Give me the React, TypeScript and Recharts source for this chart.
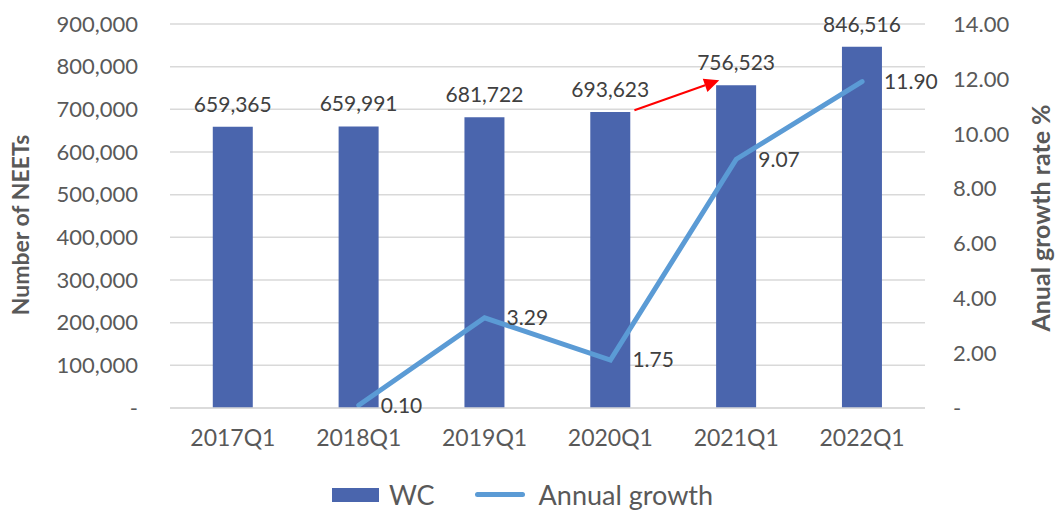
import React from "react";
import {
  ComposedChart,
  Bar,
  Line,
  XAxis,
  YAxis,
  CartesianGrid,
  LabelList,
  Legend,
  ReferenceLine,
} from "recharts";

const categories = ["2017Q1", "2018Q1", "2019Q1", "2020Q1", "2021Q1", "2022Q1"];
const wcValues = [659365, 659991, 681722, 693623, 756523, 846516];
const growthValues: (number | null)[] = [null, 0.1, 3.29, 1.75, 9.07, 11.9];
const leftTicks = [0, 100000, 200000, 300000, 400000, 500000, 600000, 700000, 800000, 900000];
const rightTicks = [0, 2, 4, 6, 8, 10, 12, 14];

// arrow annotation between 2020Q1 and 2021Q1 (value coordinates)
const arrowSegment = [
  { x: "2020Q1", y: 698000 },
  { x: "2021Q1", y: 768000 },
];

const FONT = "Lato, 'Open Sans', sans-serif";
const BAR_COLOR = "#4A65AD";
const LINE_COLOR = "#5B9BD5";
const AXIS_TEXT = "#595959";
const LABEL_TEXT = "#404040";

const data = categories.map((c, i) => ({
  name: c,
  WC: wcValues[i],
  growth: growthValues[i],
}));

function ArrowShape(props: any) {
  const { x1, y1, x2, y2 } = props;
  if (x1 == null || x2 == null) return null;
  // start just right of the 2020Q1 bar, end left of the 2021Q1 label
  const sx = x1 + 24;
  const ex = x2 - 17;
  const sy = y1;
  const ey = y2;
  const ang = Math.atan2(ey - sy, ex - sx);
  const hl = 15;
  const hw = 7;
  const bx = ex - hl * Math.cos(ang);
  const by = ey - hl * Math.sin(ang);
  const px = -Math.sin(ang) * hw;
  const py = Math.cos(ang) * hw;
  return (
    <g>
      <line x1={sx} y1={sy} x2={bx} y2={by} stroke="#FF0000" strokeWidth={2} />
      <polygon
        points={`${ex},${ey} ${bx + px},${by + py} ${bx - px},${by - py}`}
        fill="#FF0000"
      />
    </g>
  );
}

function renderLegend() {
  return (
    <div
      style={{
        display: "flex",
        justifyContent: "center",
        alignItems: "center",
        fontFamily: FONT,
        fontSize: 27,
        color: AXIS_TEXT,
        marginLeft: -10,
      }}
    >
      <span style={{ display: "inline-block", width: 47, height: 14, background: BAR_COLOR, marginRight: 10 }} />
      <span style={{ marginRight: 40 }}>WC</span>
      <span
        style={{
          display: "inline-block",
          width: 50,
          height: 5,
          borderRadius: 3,
          background: LINE_COLOR,
          marginRight: 14,
        }}
      />
      <span>Annual growth</span>
    </div>
  );
}

function axisTitle(text: string, side: "left" | "right", size: number, shift: number) {
  return (props: any) => {
    const vb = props.viewBox || {};
    const x = side === "left" ? 20 : 1040;
    const y = (vb.y ?? 24) + (vb.height ?? 384) / 2 + shift;
    return (
      <text
        x={x}
        y={y}
        transform={`rotate(-90 ${x} ${y})`}
        textAnchor="middle"
        dominantBaseline="central"
        fontFamily={FONT}
        fontWeight={700}
        fontSize={size}
        fill={AXIS_TEXT}
      >
        {text}
      </text>
    );
  };
}

export default function App() {
  return (
    <div style={{ position: "absolute", top: 0, left: 0, width: 1055, height: 510, background: "#fff" }}>
      <ComposedChart
        width={1055}
        height={510}
        data={data}
        margin={{ top: 24, right: 0, left: 0, bottom: 12 }}
        barCategoryGap="34%"
      >
        <CartesianGrid yAxisId="left" vertical={false} stroke="#D9D9D9" strokeWidth={1.5} />
        <XAxis
          dataKey="name"
          height={50}
          tickLine={false}
          axisLine={{ stroke: "#D9D9D9", strokeWidth: 1.5 }}
          tick={{ fontFamily: FONT, fontSize: 23, fill: AXIS_TEXT }}
          tickMargin={16}
        />
        <YAxis
          yAxisId="left"
          width={170}
          domain={[0, 900000]}
          ticks={leftTicks}
          tickLine={false}
          axisLine={false}
          tickMargin={26}
          tick={{ fontFamily: FONT, fontSize: 22, fill: AXIS_TEXT }}
          tickFormatter={(v: number) => (v === 0 ? "-" : v.toLocaleString("en-US"))}
          label={{ content: axisTitle("Number of NEETs", "left", 23, 9) }}
        />
        <YAxis
          yAxisId="right"
          orientation="right"
          width={130}
          domain={[0, 14]}
          ticks={rightTicks}
          tickLine={false}
          axisLine={false}
          tickMargin={22}
          tick={{ fontFamily: FONT, fontSize: 22, fill: AXIS_TEXT }}
          tickFormatter={(v: number) => (v === 0 ? "-" : v.toFixed(2))}
          label={{ content: axisTitle("Anual growth rate %", "right", 25, 2) }}
        />
        <Legend
          verticalAlign="bottom"
          height={40}
          content={renderLegend}
          wrapperStyle={{ top: 478, left: 0, width: 1055 }}
        />
        <Bar yAxisId="left" dataKey="WC" name="WC" fill={BAR_COLOR} isAnimationActive={false} maxBarSize={40}>
          <LabelList
            dataKey="WC"
            position="top"
            offset={15}
            formatter={(v: number) => v.toLocaleString("en-US")}
            style={{ fontFamily: FONT, fontSize: 21, fill: LABEL_TEXT }}
          />
        </Bar>
        <Line
          yAxisId="right"
          dataKey="growth"
          name="Annual growth"
          stroke={LINE_COLOR}
          strokeWidth={5}
          strokeLinecap="round"
          dot={false}
          activeDot={false}
          type="linear"
          isAnimationActive={false}
        >
          <LabelList
            dataKey="growth"
            position="right"
            offset={22}
            formatter={(v: number | null) => (v == null ? "" : v.toFixed(2))}
            style={{ fontFamily: FONT, fontSize: 21, fill: LABEL_TEXT }}
          />
        </Line>
        <ReferenceLine
          yAxisId="left"
          segment={arrowSegment}
          ifOverflow="visible"
          shape={ArrowShape}
        />
      </ComposedChart>
    </div>
  );
}
